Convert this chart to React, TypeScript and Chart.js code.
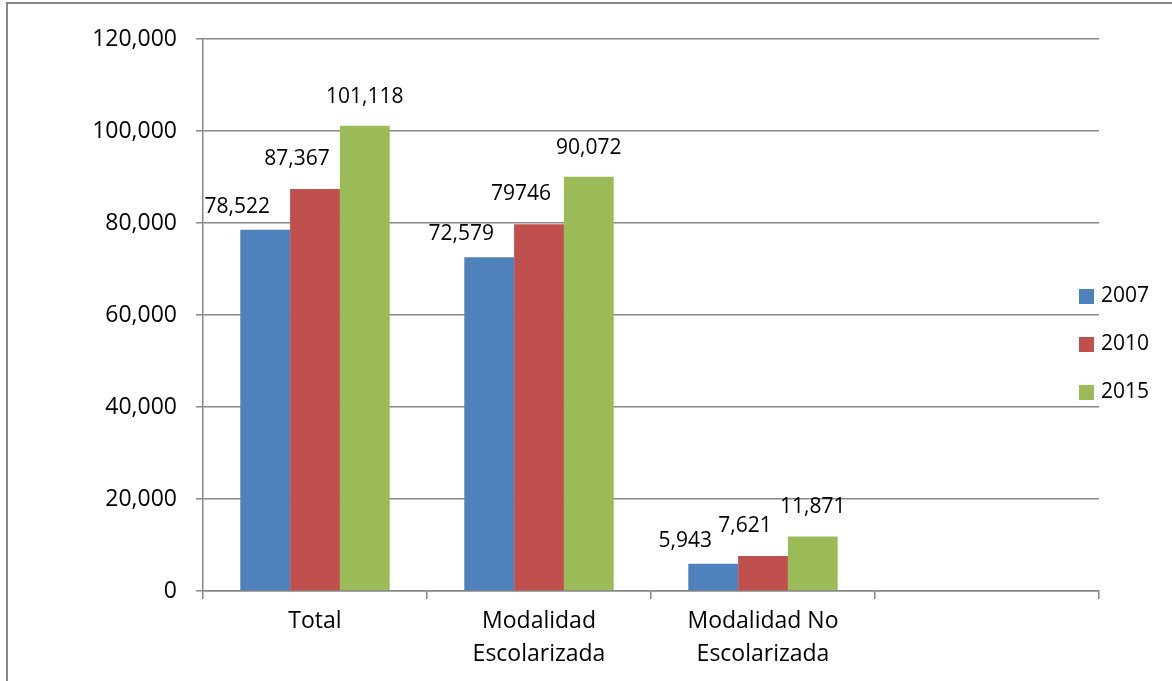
import React, { useEffect, useRef } from 'react';
import { Chart, registerables } from 'chart.js';

Chart.register(...registerables);

const FONT = '"Open Sans", Lato, sans-serif';

const categories: (string | string[])[] = [
  'Total',
  ['Modalidad', 'Escolarizada'],
  ['Modalidad No', 'Escolarizada'],
  '',
];

const seriesNames = ['2007', '2010', '2015'];
const values2007 = [78522, 72579, 5943];
const values2010 = [87367, 79746, 7621];
const values2015 = [101118, 90072, 11871];

const labels2007 = ['78,522', '72,579', '5,943'];
const labels2010 = ['87,367', '79746', '7,621'];
const labels2015 = ['101,118', '90,072', '11,871'];

const colors = ['#4F81BD', '#C0504D', '#9BBB59'];
const yTicks = { min: 0, max: 120000, step: 20000 };

const GRID = '#868686';

const borderPlugin = {
  id: 'outerBorder',
  beforeDraw(chart: any) {
    const ctx = chart.ctx;
    ctx.save();
    ctx.fillStyle = '#fff';
    ctx.fillRect(0, 0, chart.width, chart.height);
    ctx.strokeStyle = GRID;
    ctx.lineWidth = 2;
    ctx.beginPath();
    ctx.moveTo(7, chart.height);
    ctx.lineTo(7, 3);
    ctx.lineTo(chart.width, 3);
    ctx.stroke();
    ctx.restore();
  },
};

const valueLabelPlugin = {
  id: 'valueLabels',
  afterDatasetsDraw(chart: any) {
    const ctx = chart.ctx;
    ctx.save();
    ctx.font = `21px ${FONT}`;
    ctx.fillStyle = '#000';
    ctx.textAlign = 'center';
    ctx.textBaseline = 'middle';
    chart.data.datasets.forEach((ds: any, i: number) => {
      const meta = chart.getDatasetMeta(i);
      meta.data.forEach((bar: any, j: number) => {
        const t = ds.valueLabels[j];
        if (t == null) return;
        ctx.fillText(t, bar.x + ds.labelDx, bar.y - ds.labelDy);
      });
    });
    ctx.restore();
  },
};

const legendPlugin = {
  id: 'sideLegend',
  afterDraw(chart: any) {
    const ctx = chart.ctx;
    const area = chart.chartArea;
    ctx.save();
    ctx.font = `21px ${FONT}`;
    ctx.textAlign = 'left';
    ctx.textBaseline = 'middle';
    chart.data.datasets.forEach((ds: any, i: number) => {
      const cy = chart.height / 2 + 4 + (i - 1) * 48;
      ctx.fillStyle = ds.backgroundColor;
      ctx.fillRect(area.right - 20, cy - 7.5, 15, 15);
      ctx.fillStyle = '#000';
      ctx.fillText(ds.label, area.right + 2, cy);
    });
    ctx.restore();
  },
};

export default function App() {
  const ref = useRef<HTMLCanvasElement | null>(null);

  useEffect(() => {
    if (!ref.current) return;
    const dataSets = [
      { v: values2007, l: labels2007, dx: -28, dy: 23 },
      { v: values2010, l: labels2010, dx: -18, dy: 30 },
      { v: values2015, l: labels2015, dx: 0, dy: 29 },
    ];
    const chart = new Chart(ref.current, {
      type: 'bar',
      data: {
        labels: categories as any,
        datasets: dataSets.map((d, i) => ({
          label: seriesNames[i],
          data: d.v,
          backgroundColor: colors[i],
          borderWidth: 0,
          categoryPercentage: 0.667,
          barPercentage: 1,
          valueLabels: d.l,
          labelDx: d.dx,
          labelDy: d.dy,
        })) as any,
      },
      options: {
        responsive: false,
        maintainAspectRatio: false,
        animation: false,
        layout: { padding: { left: 0, top: 39, right: 73, bottom: 0 } },
        plugins: { legend: { display: false }, tooltip: { enabled: false } },
        scales: {
          x: {
            ticks: {
              color: '#000',
              font: { family: FONT, size: 23, lineHeight: 1.43 },
              padding: 6,
              maxRotation: 0,
              autoSkip: false,
            },
            grid: {
              drawOnChartArea: false,
              drawTicks: true,
              tickLength: 8,
              color: GRID,
              lineWidth: 1.5,
              offset: true,
            },
            border: { color: GRID, width: 1.5 },
            afterFit: (s: any) => {
              s.height = 90;
            },
          },
          y: {
            min: yTicks.min,
            max: yTicks.max,
            ticks: {
              stepSize: yTicks.step,
              color: '#000',
              font: { family: FONT, size: 23 },
              padding: 19,
              callback: (v: any) => Number(v).toLocaleString('en-US'),
            },
            grid: { color: GRID, lineWidth: 1.5, tickLength: 7, drawTicks: true },
            border: { color: GRID, width: 1.5 },
            afterFit: (s: any) => {
              s.width = 203;
            },
          },
        },
      },
      plugins: [borderPlugin, valueLabelPlugin, legendPlugin],
    });
    return () => chart.destroy();
  }, []);

  return (
    <div style={{ position: 'fixed', left: 0, top: 0, width: 1172, height: 681, background: '#fff' }}>
      <canvas ref={ref} width={1172} height={681} style={{ display: 'block' }} />
    </div>
  );
}
